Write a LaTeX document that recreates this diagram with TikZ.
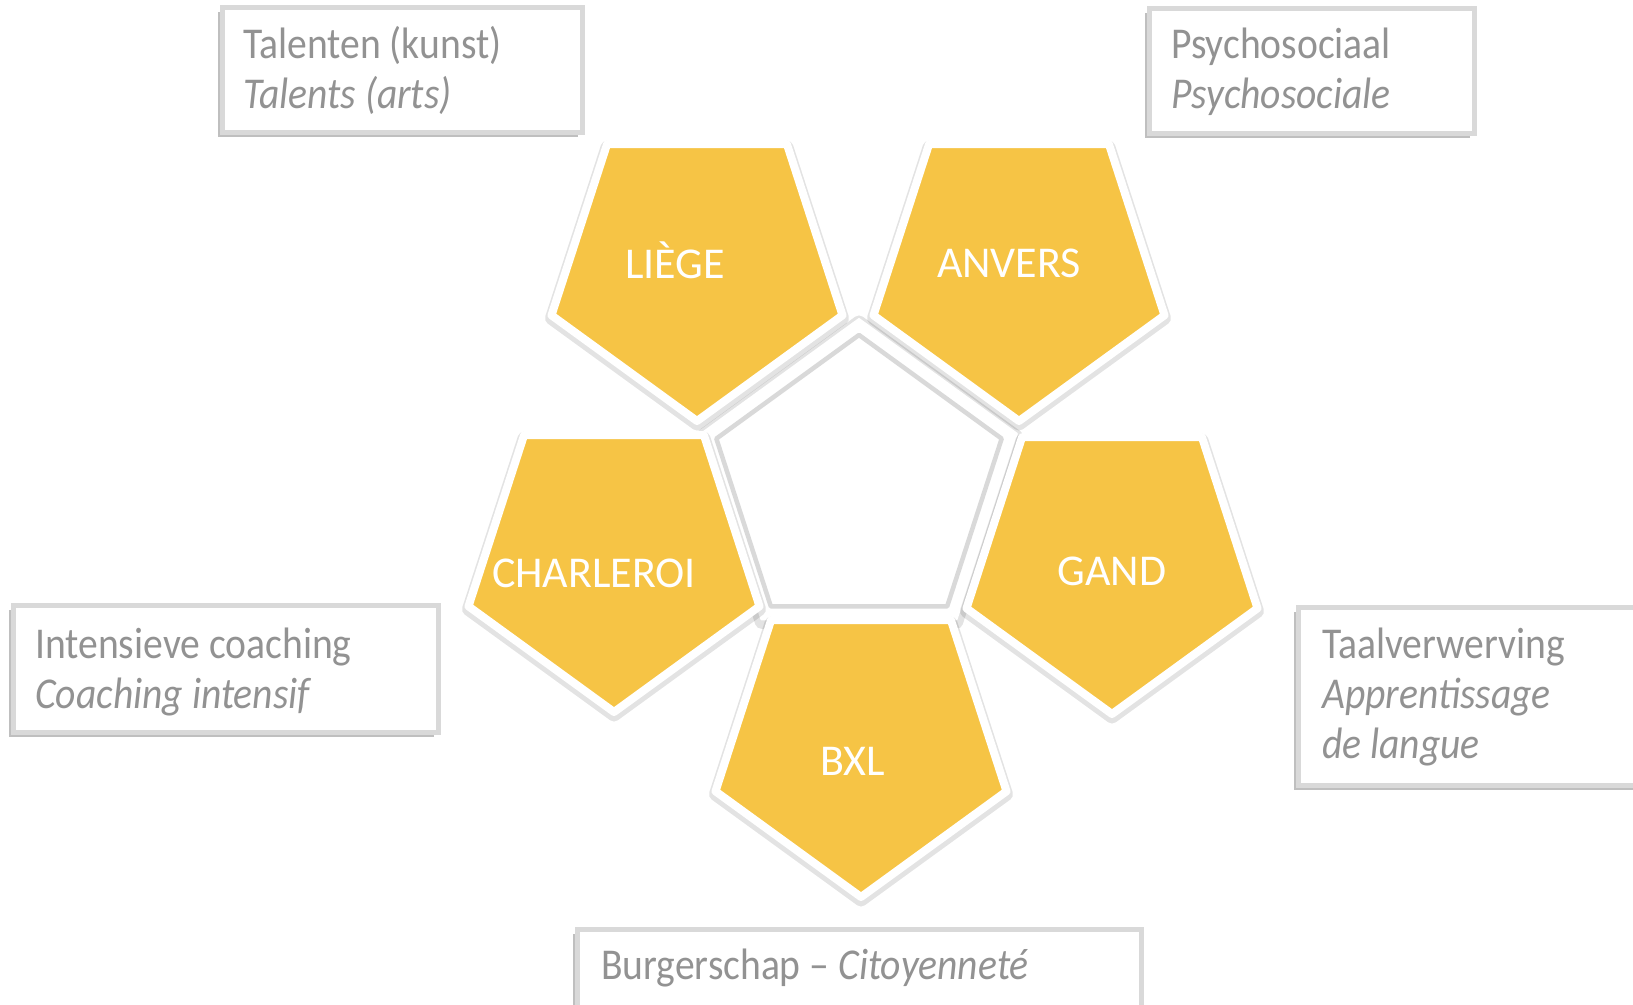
\documentclass[tikz,border=0pt]{standalone}
\usepackage{fontspec}
\setmainfont{Carlito}
\newfontfamily\boxfont{Carlito}[FakeStretch=0.9, Ligatures=TeX]
\definecolor{pyellow}{HTML}{F6C445}
\definecolor{txtgray}{HTML}{929292}
\definecolor{bordergray}{HTML}{D9D9D9}
\definecolor{shadowgray}{HTML}{8C8C8C}
\tikzset{
  boxshadow/.style={fill=shadowgray, opacity=0.55},
  infobox/.style={fill=white, draw=bordergray, line width=5pt},
  boxtext/.style={anchor=base west, inner sep=0pt, text=txtgray, font=\boxfont\fontsize{44}{50}\selectfont},
  pentfill/.style={fill=pyellow, draw=white, line width=8pt, line join=round},
  pentshadow/.style={draw=black, opacity=0.11, line width=13pt, line join=round},
  centerouter/.style={fill=white, draw=white, line width=2pt, line join=round},
  centerinner/.style={fill=white, draw=bordergray, line width=4.5pt, line join=round},
  citylabel/.style={anchor=base, inner sep=0pt, text=white, font=\fontsize{44}{50}\selectfont},
}
\newcommand\yellowpent[2]{%
  \begin{scope}[shift={(#1,#2)}]
    \draw[pentshadow, yshift=-3pt] (90:153) -- (162:153) -- (234:153) -- (306:153) -- (18:153) -- cycle;
    \draw[pentfill] (90:153) -- (162:153) -- (234:153) -- (306:153) -- (18:153) -- cycle;
  \end{scope}}
\begin{document}
\begin{tikzpicture}[x=1pt,y=-1pt]
\useasboundingbox (0,0) rectangle (1633,1004);
\fill[white] (0,0) rectangle (1633,1004);

% centre pentagon
\begin{scope}[shift={(859,485)}]
  \draw[pentshadow, yshift=-3pt] (270:166) -- (342:166) -- (54:166) -- (126:166) -- (198:166) -- cycle;
  \draw[centerouter] (270:166) -- (342:166) -- (54:166) -- (126:166) -- (198:166) -- cycle;
  \draw[centerinner] (270:150) -- (342:150) -- (54:150) -- (126:150) -- (198:150) -- cycle;
\end{scope}

% yellow pentagons
\yellowpent{697}{268}
\yellowpent{1019}{268}
\yellowpent{614}{559}
\yellowpent{1112}{561}
\yellowpent{861}{744}

\node[citylabel] (liege) at (675,278) {LIÈGE};
\node[citylabel] (anvers) at (1009,277) {ANVERS};
\node[citylabel] (charleroi) at (594,587) {CHARLEROI};
\node[citylabel] (gand) at (1112,585) {GAND};
\node[citylabel] (bxl) at (853,775) {BXL};

% info boxes
\fill[boxshadow] (218,12) rectangle (578,137);
\draw[infobox] (222,7) rectangle (582,132);
\node[boxtext] (talenten) at (243,58) {Talenten (kunst)};
\node[boxtext] (talents) at (243,108) {\itshape Talents (arts)};

\fill[boxshadow] (1145,13) rectangle (1470,138);
\draw[infobox] (1149,8) rectangle (1474,133);
\node[boxtext] (psycho) at (1171,58) {Psychosociaal};
\node[boxtext] (psychof) at (1171,108) {\itshape Psychosociale};

\fill[boxshadow] (9,610) rectangle (434,737);
\draw[infobox] (13,605) rectangle (438,732);
\node[boxtext] (coach) at (35,658) {Intensieve coaching};
\node[boxtext] (coachf) at (35,708) {\itshape Coaching intensif};

\fill[boxshadow] (1294,612) rectangle (1656,790);
\draw[infobox] (1298,607) rectangle (1660,785);
\node[boxtext] (taal) at (1322,658) {Taalverwerving};
\node[boxtext] (taalf) at (1322,708) {\itshape Apprentissage};
\node[boxtext] (taalf2) at (1322,758) {\itshape de langue};

\fill[boxshadow] (573,934) rectangle (1137,1035);
\draw[infobox] (577,929) rectangle (1141,1030);
\node[boxtext] (burger) at (601,979) {Burgerschap – \textit{Citoyenneté}};
\end{tikzpicture}
\end{document}
